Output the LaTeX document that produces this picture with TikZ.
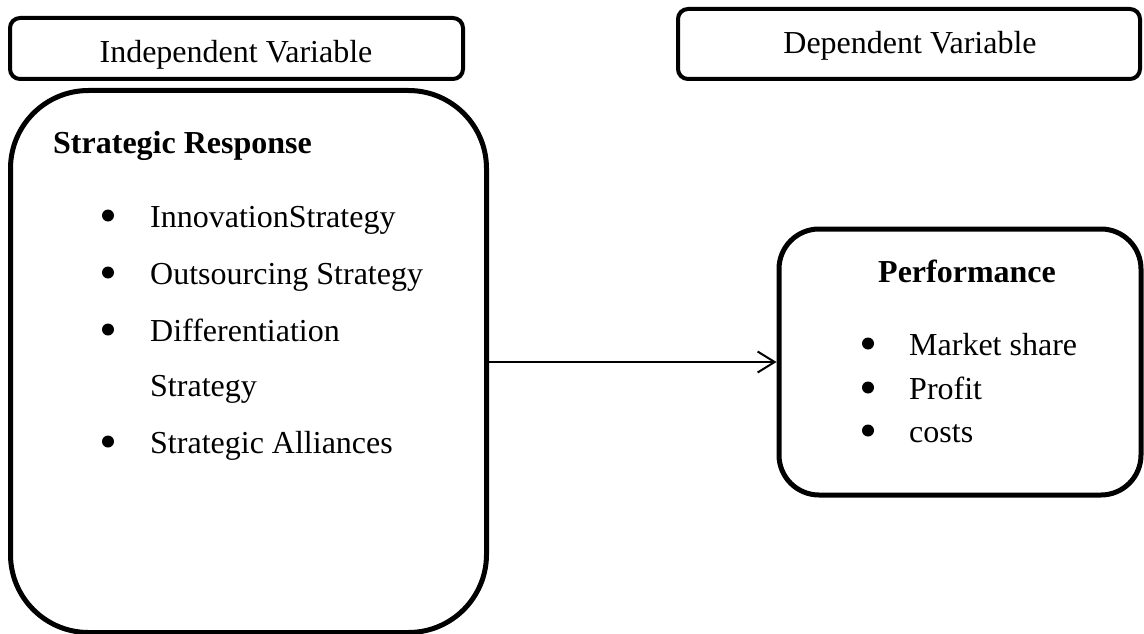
\documentclass[tikz,border=0pt]{standalone}
\usepackage{fontspec}
\setmainfont{Liberation Serif}
\usetikzlibrary{arrows.meta}

\tikzset{
  labelbox/.style={draw, line width=4pt, rounded corners=10pt, inner sep=0pt},
  bigbox/.style={draw, line width=5pt, inner sep=0pt},
  txt/.style={inner sep=0pt, anchor=base west, font=\fontsize{32}{38}\selectfont},
  ttl/.style={txt, font=\fontsize{32}{38}\selectfont\bfseries},
  hdr/.style={inner sep=0pt, anchor=base, font=\fontsize{32}{38}\selectfont},
  dot/.style={circle, fill, inner sep=0pt, minimum size=12pt},
  link/.style={line width=2pt, -{Straight Barb[length=17pt, width=21pt, line width=2pt]}}
}

\begin{document}
\begin{tikzpicture}[x=1pt, y=-1pt]
  \useasboundingbox (0,0) rectangle (1144,634);

  % variable headers
  \node[labelbox, minimum width=453pt, minimum height=61pt] (indbox) at (236.5,48.5) {};
  \node[hdr] (indtxt) at (236,62.5) {Independent Variable};
  \node[labelbox, minimum width=462pt, minimum height=70pt] (depbox) at (909,44) {};
  \node[hdr] (deptxt) at (910,53.3) {Dependent Variable};

  % strategic response block
  \node[bigbox, rounded corners=78pt, minimum width=476pt, minimum height=542pt] (resp) at (248.5,361.5) {};
  \node[ttl] (resptitle) at (53,153) {Strategic Response};
  \node[dot] (b1) at (108,215.5) {};
  \node[txt] (r1) at (150,227) {InnovationStrategy};
  \node[dot] (b2) at (108,272.5) {};
  \node[txt] (r2) at (150,284) {Outsourcing Strategy};
  \node[dot] (b3) at (108,329.5) {};
  \node[txt] (r3) at (150,341) {Differentiation};
  \node[txt] (r3b) at (150,396.5) {Strategy};
  \node[dot] (b4) at (108,441.5) {};
  \node[txt] (r4) at (150,453) {Strategic Alliances};

  % performance block
  \node[bigbox, rounded corners=40pt, minimum width=362pt, minimum height=266pt] (perf) at (960,362) {};
  \node[ttl] (perftitle) at (878,282) {Performance};
  \node[dot] (p1b) at (868,343.5) {};
  \node[txt] (p1) at (909,355) {Market share};
  \node[dot] (p2b) at (868,387.5) {};
  \node[txt] (p2) at (909,399) {Profit};
  \node[dot] (p3b) at (868,430.5) {};
  \node[txt] (p3) at (909,442) {costs};

  % relationship
  \draw[link] (perf.west -| resp.east) -- (perf.west);
\end{tikzpicture}
\end{document}
